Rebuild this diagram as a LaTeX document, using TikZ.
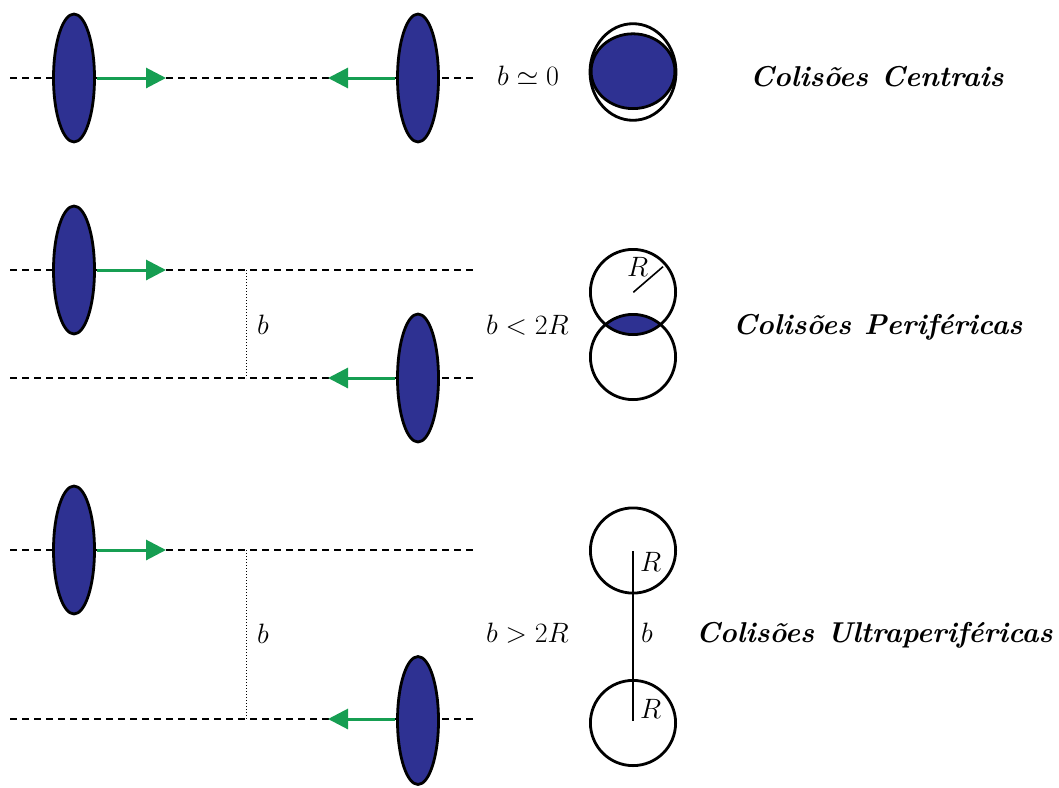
\documentclass[tikz,border=0pt]{standalone}
\usetikzlibrary{arrows.meta,shapes.geometric}
\definecolor{nucblue}{RGB}{46,49,146}
\definecolor{arrgreen}{RGB}{22,158,82}
\newcommand{\wsp}{\hspace{0.45em}}
\begin{document}
\begin{tikzpicture}[x=1pt,y=-1pt,
 nucleus/.style={ellipse,draw,line width=2.8pt,fill=nucblue,minimum width=41pt,minimum height=128pt,inner sep=0pt},
 beam/.style={dash pattern=on 7pt off 5pt,line width=1.3pt},
 vel/.style={arrgreen,line width=3pt,-{Triangle[length=20pt,width=20pt]}},
 sep/.style={dotted,line width=1pt},
 disk/.style={line width=2.8pt},
 lab/.style={font=\fontsize{24.88}{30}\selectfont,scale=1.125,inner sep=0pt,anchor=base west},
 title/.style={font=\fontsize{28.7}{34}\selectfont\bfseries\itshape,inner sep=0pt,anchor=base west}]
\useasboundingbox (0,0) rectangle (1059,787);
% ---------- row 1 ----------
\coordinate (l1a) at (10,78); \coordinate (l1b) at (477,78);
\draw[beam] (l1a) -- (l1b);
\node[nucleus] (n1a) at (74,78) {};
\node[nucleus] (n1b) at (418,78) {};
\coordinate (t1a) at (166,78); \coordinate (t1b) at (328,78);
\draw[vel] ([xshift=1.4pt]n1a.east) -- (t1a);
\draw[vel] ([xshift=-1.4pt]n1b.west) -- (t1b);
\node[lab] (c1) at (497,85) {$b\simeq0$};
\draw[disk] (633,72) ellipse [x radius=43, y radius=48.3];
\draw[disk,fill=nucblue] (633,71.2) ellipse [x radius=41.9, y radius=37.4];
\node[title] (h1) at (750,86) {Colisões\wsp Centrais};
% ---------- row 2 ----------
\coordinate (l2a) at (10,270); \coordinate (l2b) at (477,270);
\coordinate (l2c) at (10,378); \coordinate (l2d) at (477,378);
\draw[beam] (l2a) -- (l2b);
\draw[beam] (l2c) -- (l2d);
\coordinate (s2a) at (246,270); \coordinate (s2b) at (246,378);
\draw[sep] (s2a) -- (s2b);
\node[lab] (b2) at (257,334) {$b$};
\node[nucleus] (n2a) at (74,270) {};
\node[nucleus] (n2b) at (418,378) {};
\coordinate (t2a) at (166,270); \coordinate (t2b) at (328,378);
\draw[vel] ([xshift=1.4pt]n2a.east) -- (t2a);
\draw[vel] ([xshift=-1.4pt]n2b.west) -- (t2b);
\node[lab] (c2) at (486,334) {$b<2R$};
\begin{scope}
\clip (633,292) circle (42.6);
\fill[nucblue] (633,357) circle (42.6);
\end{scope}
\draw[disk] (633,292) circle (42.6);
\draw[disk] (633,357) circle (42.6);
\coordinate (r2a) at (633.3,292.3); \coordinate (r2b) at (663,266.7);
\draw[line width=1.6pt] (r2a) -- (r2b);
\node[lab] (R2) at (627,276) {$R$};
\node[title] (h2) at (733,334) {Colisões\wsp Periféricas};
% ---------- row 3 ----------
\coordinate (l3a) at (10,550); \coordinate (l3b) at (477,550);
\coordinate (l3c) at (10,719); \coordinate (l3d) at (477,719);
\draw[beam] (l3a) -- (l3b);
\draw[beam] (l3c) -- (l3d);
\coordinate (s3a) at (246,550); \coordinate (s3b) at (246,719);
\draw[sep] (s3a) -- (s3b);
\node[lab] (b3) at (257,643) {$b$};
\node[nucleus] (n3a) at (74,550) {};
\node[nucleus] (n3b) at (418,720.5) {};
\coordinate (t3a) at (166,550); \coordinate (t3b) at (328,719);
\draw[vel] ([xshift=1.4pt]n3a.east |- t3a) -- (t3a);
\draw[vel] ([xshift=-1.4pt]n3b.west |- t3b) -- (t3b);
\node[lab] (c3) at (486,642) {$b>2R$};
\draw[disk] (633,550.5) circle (42.6);
\draw[disk] (633,723) circle (42.6);
\coordinate (v3a) at (633,551); \coordinate (v3b) at (633,721);
\draw[disk] (v3a) -- (v3b);
\node[lab] (R3a) at (640,571) {$R$};
\node[lab] (R3b) at (640,718) {$R$};
\node[lab] (b3r) at (641,642) {$b$};
\node[title] (h3) at (696,642) {Colisões\wsp Ultraperiféricas};
\end{tikzpicture}
\end{document}
